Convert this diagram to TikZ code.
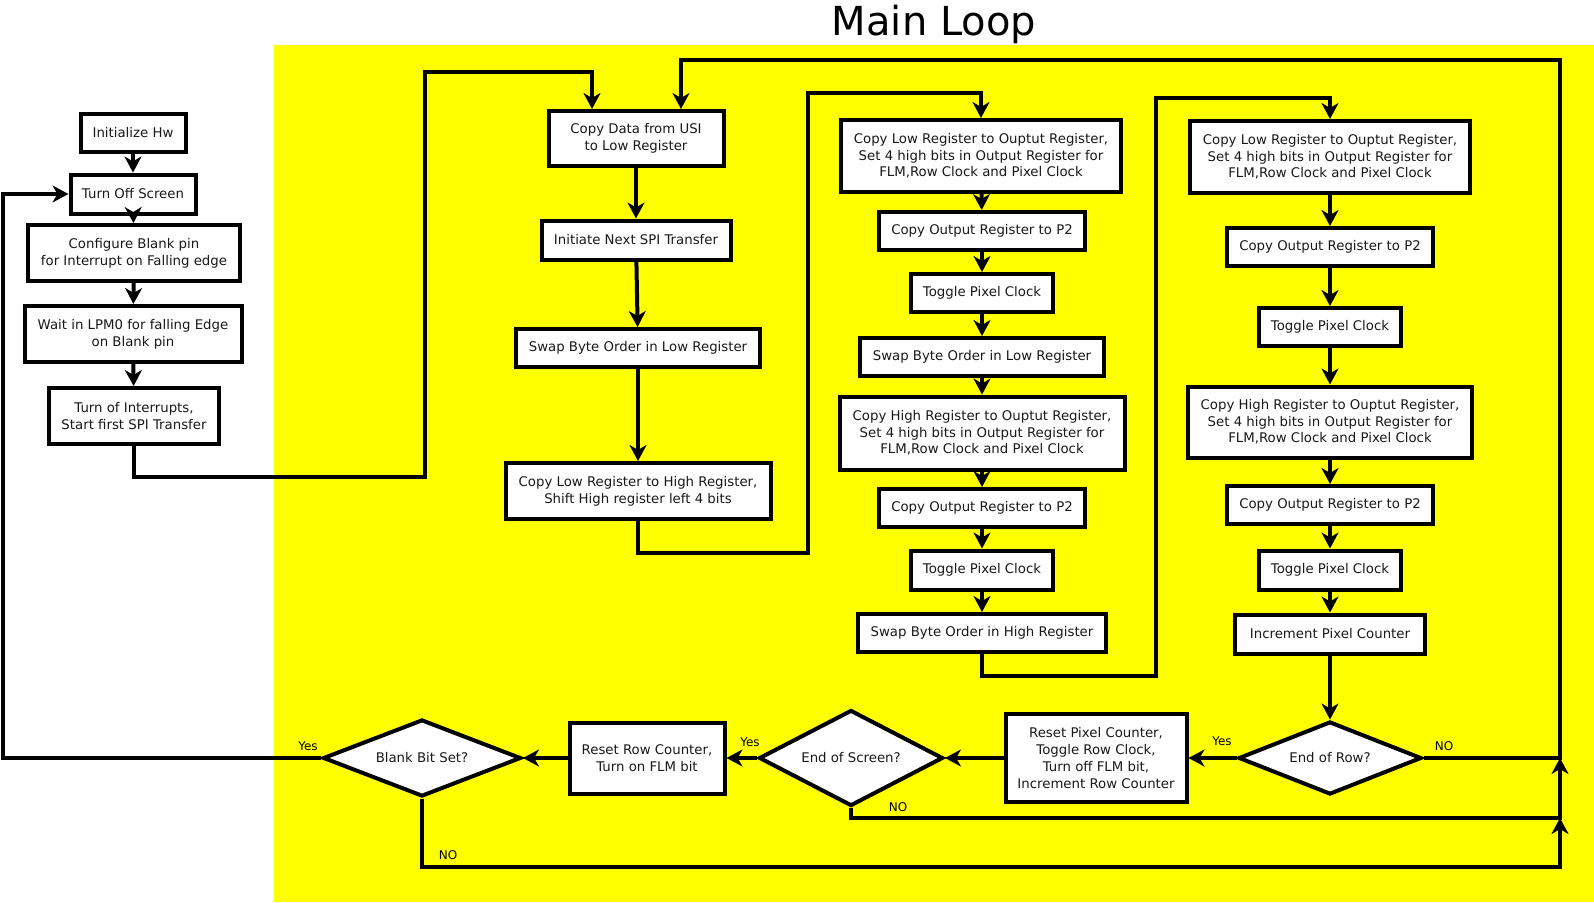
\documentclass[tikz,border=0pt]{standalone}
\usepackage{fontspec}
\setmainfont{DejaVu Sans}
\usetikzlibrary{arrows.meta,shapes.geometric}
\definecolor{ybg}{RGB}{255,255,0}
\begin{document}
\begin{tikzpicture}[x=1pt,y=-1pt,
  box/.style={draw=black,fill=white,line width=4pt,rectangle,inner sep=0pt,align=center,
     font=\fontsize{13.3}{16.7}\selectfont,text=black!90},
  dia/.style={draw=black,fill=white,line width=4pt,diamond,aspect=2,inner sep=0pt,align=center,
     font=\fontsize{13.3}{16.7}\selectfont,text=black!90},
  conn/.style={line width=4pt,draw=black,line join=miter},
  arr/.style={conn,-{Stealth[length=16pt,width=17pt,inset=5pt]}},
  lbl/.style={font=\fontsize{12}{13}\selectfont,inner sep=0pt,text=black}]
\useasboundingbox (0,0) rectangle (1594,902);
\fill[white] (0,0) rectangle (1594,902);
\fill[ybg] (274,45) rectangle (1594,902);
\node[font=\fontsize{40}{44}\selectfont,inner sep=0pt] (title) at (934,24) {Main Loop};

% left column
\node[box,minimum width=105pt,minimum height=38pt] (init) at (133,133) {Initialize Hw};
\node[box,minimum width=125pt,minimum height=39pt] (off) at (133,194) {Turn Off Screen};
\node[box,minimum width=212pt,minimum height=56pt] (conf) at (134,253) {Configure Blank pin\\for Interrupt on Falling edge};
\node[box,minimum width=217pt,minimum height=56pt] (wait) at (133,334) {Wait in LPM0 for falling Edge\\on Blank pin};
\node[box,minimum width=170pt,minimum height=56pt] (intr) at (134,416) {Turn of Interrupts,\\Start first SPI Transfer};

% column 1
\node[box,minimum width=175pt,minimum height=55pt] (usi) at (636,138) {Copy Data from USI\\to Low Register};
\node[box,minimum width=189pt,minimum height=39pt] (spi) at (636,240) {Initiate Next SPI Transfer};
\node[box,minimum width=244pt,minimum height=38pt] (swlA) at (638,348) {Swap Byte Order in Low Register};
\node[box,minimum width=265pt,minimum height=56pt] (cplh) at (638,491) {Copy Low Register to High Register,\\Shift High register left 4 bits};

% column 2
\node[box,minimum width=280pt,minimum height=72pt] (loB) at (981,156) {Copy Low Register to Ouptut Register,\\Set 4 high bits in Output Register for\\FLM,Row Clock and Pixel Clock};
\node[box,minimum width=206pt,minimum height=38pt] (pA) at (982,231) {Copy Output Register to P2};
\node[box,minimum width=142pt,minimum height=38pt] (tA) at (982,293) {Toggle Pixel Clock};
\node[box,minimum width=244pt,minimum height=38pt] (swlB) at (982,357) {Swap Byte Order in Low Register};
\node[box,minimum width=285pt,minimum height=73pt] (hiB) at (982,433) {Copy High Register to Ouptut Register,\\Set 4 high bits in Output Register for\\FLM,Row Clock and Pixel Clock};
\node[box,minimum width=206pt,minimum height=38pt] (pB) at (982,508) {Copy Output Register to P2};
\node[box,minimum width=142pt,minimum height=39pt] (tB) at (982,570) {Toggle Pixel Clock};
\node[box,minimum width=248pt,minimum height=38pt] (swh) at (982,633) {Swap Byte Order in High Register};

% column 3
\node[box,minimum width=280pt,minimum height=72pt] (loC) at (1330,157) {Copy Low Register to Ouptut Register,\\Set 4 high bits in Output Register for\\FLM,Row Clock and Pixel Clock};
\node[box,minimum width=206pt,minimum height=38pt] (pC) at (1330,247) {Copy Output Register to P2};
\node[box,minimum width=142pt,minimum height=38pt] (tC) at (1330,327) {Toggle Pixel Clock};
\node[box,minimum width=284pt,minimum height=71pt] (hiC) at (1330,422) {Copy High Register to Ouptut Register,\\Set 4 high bits in Output Register for\\FLM,Row Clock and Pixel Clock};
\node[box,minimum width=206pt,minimum height=38pt] (pD) at (1330,505) {Copy Output Register to P2};
\node[box,minimum width=142pt,minimum height=39pt] (tD) at (1330,570) {Toggle Pixel Clock};
\node[box,minimum width=190pt,minimum height=39pt] (inc) at (1330,634) {Increment Pixel Counter};

% bottom row
\node[dia,minimum width=183pt,minimum height=73pt] (eor) at (1330,758) {End of Row?};
\node[box,minimum width=181pt,minimum height=88pt] (rpc) at (1096,758) {Reset Pixel Counter,\\Toggle Row Clock,\\Turn off FLM bit,\\Increment Row Counter};
\node[dia,minimum width=184pt,minimum height=96pt] (eos) at (851,758) {End of Screen?};
\node[box,minimum width=155pt,minimum height=71pt] (rrc) at (647,758) {Reset Row Counter,\\Turn on FLM bit};
\node[dia,minimum width=198pt,minimum height=77pt] (bbs) at (422,758) {Blank Bit Set?};

% junction coordinates
\coordinate (a1) at (425,477);
\coordinate (a2) at (425,72);
\coordinate (a3) at (592,109);
\coordinate (b1) at (808,553);
\coordinate (b2) at (808,93);
\coordinate (c1) at (1156,676);
\coordinate (c2) at (1156,98);
\coordinate (r0) at (1560,758);
\coordinate (r1) at (1560,818);
\coordinate (r2) at (1560,867);
\coordinate (r3) at (1560,60);
\coordinate (u1) at (681,109);
\coordinate (l1) at (3,758);
\coordinate (l2) at (3,194);

% left column arrows
\draw[arr] (init) -- (off);
\draw[arr] (off) -- (conf);
\draw[arr] (conf) -- (wait);
\draw[arr] (wait) -- (intr);
\draw[arr] (intr.south) |- (a1) -- (a2) -| (a3);

% column 1
\draw[arr] (usi) -- (spi);
\draw[arr] (spi) -- (swlA);
\draw[arr] (swlA) -- (cplh);
\draw[arr] (cplh.south) |- (b1) -- (b2) -| (loB.north);

% column 2
\draw[arr] (loB) -- (pA);
\draw[arr] (pA) -- (tA);
\draw[arr] (tA) -- (swlB);
\draw[arr] (swlB) -- (hiB);
\draw[arr] (hiB) -- (pB);
\draw[arr] (pB) -- (tB);
\draw[arr] (tB) -- (swh);
\draw[arr] (swh.south) |- (c1) -- (c2) -| (loC.north);

% column 3
\draw[arr] (loC) -- (pC);
\draw[arr] (pC) -- (tC);
\draw[arr] (tC) -- (hiC);
\draw[arr] (hiC) -- (pD);
\draw[arr] (pD) -- (tD);
\draw[arr] (tD) -- (inc);
\draw[arr] (inc) -- (eor);

% bottom row
\draw[arr] (eor.west) -- (rpc.east);
\draw[arr] (rpc.west) -- (eos.east);
\draw[arr] (eos.west) -- (rrc.east);
\draw[arr] (rrc.west) -- (bbs.east);
\draw[arr] (bbs.west) -- (l1) -- (l2) -- (off.west);
\draw[arr] (bbs.south) |- (r2) -- (r1);
\draw[arr] (eos.south) |- (r1) -- (r0);
\draw[arr] (eor.east) -- (r0) -- (r3) -| (u1);

% labels
\node[lbl] (yes1) at (1222,741) {Yes};
\node[lbl] (no1) at (1444,746) {NO};
\node[lbl] (yes2) at (750,742) {Yes};
\node[lbl] (no2) at (898,807) {NO};
\node[lbl] (yes3) at (308,746) {Yes};
\node[lbl] (no3) at (448,855) {NO};
\end{tikzpicture}
\end{document}
